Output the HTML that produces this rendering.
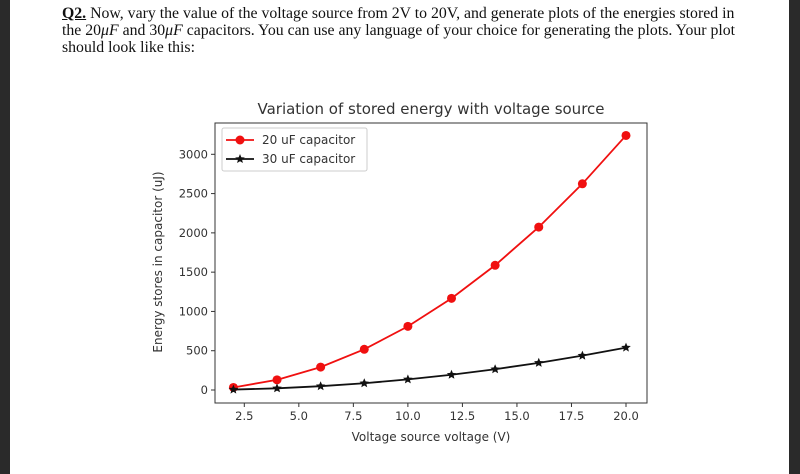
<!DOCTYPE html>
<html><head><meta charset="utf-8"><style>
body{margin:0;width:800px;height:474px;overflow:hidden;background:#fff;position:relative;font-family:"Liberation Serif",serif}
.edge{position:absolute;top:0;height:474px;background:#2a2a2a}
#q{position:absolute;left:62px;top:5px;white-space:nowrap;font-size:15.8px;line-height:17px;color:#111}
svg{position:absolute;left:0;top:0}
svg text{font-family:"DejaVu Sans",sans-serif;fill:#333}
</style></head><body>
<div class="edge" style="left:0;width:10px"></div>
<div class="edge" style="left:789px;width:11px"></div>
<div id="q"><b><u>Q2.</u></b> Now, vary the value of the voltage source from 2V to 20V, and generate plots of the energies stored in<br>the 20<i>μF</i> and 30<i>μF</i> capacitors. You can use any language of your choice for generating the plots. Your plot<br>should look like this:</div>
<svg id="chart" width="800" height="474"></svg>
<script>
const voltages=[2,4,6,8,10,12,14,16,18,20];
const energy20=[32.4,129.6,291.6,518.4,810,1166.4,1587.6,2073.6,2624.4,3240];
const energy30=[5.4,21.6,48.6,86.4,135,194.4,264.6,345.6,437.4,540];
const xTicks=[2.5,5.0,7.5,10.0,12.5,15.0,17.5,20.0];
const yTicks=[0,500,1000,1500,2000,2500,3000];
const svg=document.getElementById('chart');const NS='http://www.w3.org/2000/svg';
const L=215,R=647,T=123,B=403;
const xs=v=>244.3+(v-2.5)*(626-244.3)/17.5;
const ys=v=>390-v*(390-154.3)/3000;
function mk(t,a,p){const e=document.createElementNS(NS,t);for(const k in a)e.setAttribute(k,a[k]);(p||svg).appendChild(e);return e;}
let e=mk('rect',{x:L,y:T,width:R-L,height:B-T,fill:'none',stroke:'#333','stroke-width':1});


xTicks.forEach(v=>{mk('line',{x1:xs(v),x2:xs(v),y1:B,y2:B+4,stroke:'#333'});
 const t=mk('text',{x:xs(v),y:B+17,'font-size':11.5,'text-anchor':'middle'});t.textContent=v.toFixed(1);
 
 });
yTicks.forEach(v=>{mk('line',{x1:L-4,x2:L,y1:ys(v),y2:ys(v),stroke:'#333'});
 const t=mk('text',{x:L-7,y:ys(v)+4,'font-size':11.5,'text-anchor':'end'});t.textContent=v;
 
 });
e=mk('text',{x:431,y:114,'font-size':15,'text-anchor':'middle'});e.textContent='Variation of stored energy with voltage source';


e=mk('text',{x:431,y:441,'font-size':12,'text-anchor':'middle'});e.textContent='Voltage source voltage (V)';


e=mk('text',{x:0,y:0,'font-size':12,'text-anchor':'middle',transform:'translate(162,262) rotate(-90)'});e.textContent='Energy stores in capacitor (uJ)';


function star(cx,cy,r){let p=[];for(let i=0;i<10;i++){const a=-Math.PI/2+i*Math.PI/5,rr=i%2?r*0.45:r;p.push((cx+rr*Math.cos(a)).toFixed(1)+','+(cy+rr*Math.sin(a)).toFixed(1));}return p.join(' ');}
function series(vals,col,kind,name){
 const g=mk('g',{});
 
 
 mk('polyline',{points:voltages.map((v,i)=>xs(v)+','+ys(vals[i])).join(' '),fill:'none',stroke:col,'stroke-width':1.8},g);
 voltages.forEach((v,i)=>{let m;
  if(kind==='o')m=mk('circle',{cx:xs(v),cy:ys(vals[i]),r:4.5,fill:col},g);
  else m=mk('polygon',{points:star(xs(v),ys(vals[i]),5),fill:col},g);
  
  });
}
series(energy20,'#f01010','o','series-20uf');
series(energy30,'#111','*','series-30uf');
const lg=mk('g',{});


mk('rect',{x:222,y:128,width:145,height:43,fill:'#fff',stroke:'#ccc',rx:2},lg);
mk('line',{x1:226,x2:254,y1:140,y2:140,stroke:'#f01010','stroke-width':1.8},lg);
mk('circle',{cx:240,cy:140,r:4.5,fill:'#f01010'},lg);
e=mk('text',{x:262,y:144,'font-size':12},lg);e.textContent='20 uF capacitor';


mk('line',{x1:226,x2:254,y1:159,y2:159,stroke:'#111','stroke-width':1.8},lg);
mk('polygon',{points:star(240,159,5),fill:'#111'},lg);
e=mk('text',{x:262,y:163,'font-size':12},lg);e.textContent='30 uF capacitor';


</script>
</body></html>
